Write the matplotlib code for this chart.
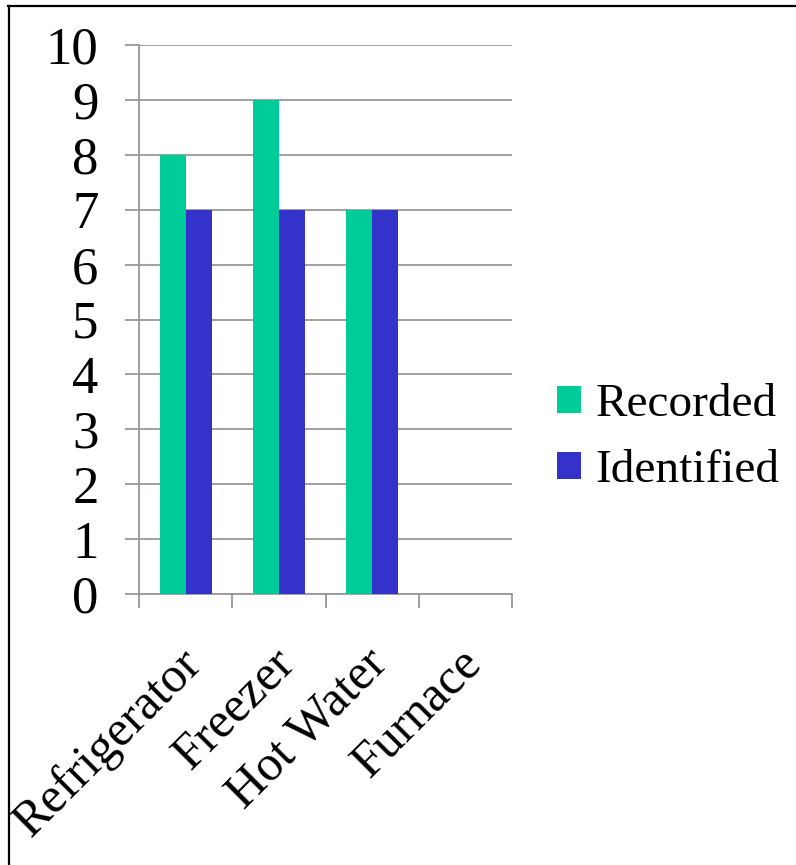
import matplotlib
matplotlib.use("Agg")
import matplotlib.pyplot as plt
from matplotlib.lines import Line2D
import matplotlib.transforms as mtransforms
import numpy as np

categories = ["Refrigerator", "Freezer", "Hot Water", "Furnace"]
recorded = [8, 9, 7, 0]
identified = [7, 7, 7, 0]
yticks = list(range(0, 11))

plt.rcParams['font.family'] = ['Liberation Serif', 'DejaVu Serif']

fig = plt.figure(figsize=(7.96, 8.65), dpi=100)
W, H = 796, 865
ax = fig.add_axes([139 / W, 1 - 594 / H, (512 - 139) / W, (594 - 45) / H])

x = np.arange(len(categories))
bw = 0.28
ax.bar(x - bw / 2, recorded, width=bw, color="#00CC99", label="Recorded", zorder=3)
ax.bar(x + bw / 2, identified, width=bw, color="#3333CC", label="Identified", zorder=3)

ax.set_xlim(-0.5, len(categories) - 0.5)
ax.set_ylim(0, 10)
ax.set_yticks(yticks)
ax.set_yticklabels([str(v) for v in yticks], fontsize=38)
ax.yaxis.grid(True, color="#999999", linewidth=1.3, zorder=0)
ax.tick_params(axis="y", length=14 / 100 * 72, width=1.3, color="#999999", pad=19)

ax.set_xticks(np.arange(-0.5, len(categories), 1.0))
ax.set_xticklabels([])
ax.set_xticks(x, minor=True)
ax.set_xticklabels(categories, minor=True, rotation=45, ha="right", va="top",
                   rotation_mode="anchor", fontsize=36)
ax.tick_params(axis="x", which="major", length=14 / 100 * 72, width=1.3, color="#999999")
ax.tick_params(axis="x", which="minor", length=0, pad=33)
offset = mtransforms.ScaledTranslation(-8 / 100, 0, fig.dpi_scale_trans)
for lab in ax.get_xticklabels(minor=True):
    lab.set_transform(lab.get_transform() + offset)

for s in ["top", "right"]:
    ax.spines[s].set_visible(False)
for s in ["left", "bottom"]:
    ax.spines[s].set_color("#999999")
    ax.spines[s].set_linewidth(1.3)

leg = fig.legend(loc="center left", bbox_to_anchor=(557 / W, 1 - 438 / H),
                 frameon=False, fontsize=34, handlelength=0.5, handleheight=0.5,
                 handletextpad=0.32, labelspacing=0.5, borderaxespad=0, borderpad=0)

# outer frame (top and left edges)
fig.add_artist(Line2D([8 / W, 1.0], [1 - 5.5 / H, 1 - 5.5 / H], color="black", linewidth=1.6,
                      transform=fig.transFigure))
fig.add_artist(Line2D([8.5 / W, 8.5 / W], [0, 1 - 5.5 / H], color="black", linewidth=1.6,
                      transform=fig.transFigure))

fig.savefig("out.png", dpi=100)
